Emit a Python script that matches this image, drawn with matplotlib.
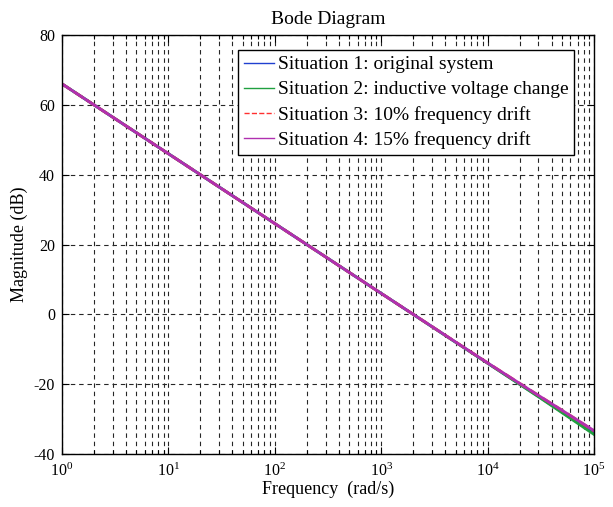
import matplotlib
matplotlib.use("Agg")
import matplotlib.pyplot as plt
from matplotlib.lines import Line2D
from matplotlib.ticker import LogLocator, FixedLocator, NullFormatter

plt.rcParams["font.family"] = ["Liberation Serif", "DejaVu Serif"]
plt.rcParams["axes.unicode_minus"] = False
plt.rcParams["mathtext.fontset"] = "custom"
plt.rcParams["mathtext.rm"] = "Liberation Serif"

# Frequency samples (rad/s) and magnitudes (dB) for each case
freq = [1, 10, 100, 1000, 1e4, 3e4, 6e4, 1e5]
mag_s1 = [66.0, 46.0, 26.0, 6.0, -14.0, -23.5, -29.6, -34.1]
mag_s2 = [66.0, 46.0, 26.0, 6.0, -14.0, -23.6, -29.8, -34.4]
mag_s3 = [66.0, 46.0, 26.0, 6.0, -13.9, -23.2, -29.0, -33.4]
mag_s4 = [66.0, 46.0, 26.0, 6.0, -13.9, -23.2, -29.0, -33.3]

labels = [
    "Situation 1: original system",
    "Situation 2: inductive voltage change",
    "Situation 3: 10% frequency drift",
    "Situation 4: 15% frequency drift",
]
colors = ["#2040d0", "#20a040", "#ff3030", "#b030b0"]
styles = ["-", "-", "--", "-"]

yticks = [-40, -20, 0, 20, 40, 60, 80]

fig = plt.figure(figsize=(6.13, 5.07), dpi=100)
ax = fig.add_axes([62 / 613, 1 - 454 / 507, (594 - 62) / 613, (454 - 35) / 507])

for y, c, ls in zip([mag_s1, mag_s2, mag_s3, mag_s4], colors, styles):
    ax.plot(freq, y, color=c, linestyle=ls, linewidth=2.0)

ax.set_xscale("log")
ax.set_xlim(1, 1e5)
ax.set_ylim(-40, 80)
ax.yaxis.set_major_locator(FixedLocator(yticks))
ax.xaxis.set_major_locator(LogLocator(base=10, numticks=10))
ax.xaxis.set_minor_locator(LogLocator(base=10, subs=range(2, 10), numticks=20))
ax.xaxis.set_minor_formatter(NullFormatter())

ax.tick_params(which="both", direction="in", top=True, right=True,
               labelsize=11.5, colors="black", width=0.8)
ax.tick_params(which="major", length=5)
ax.tick_params(which="minor", length=3)
ax.tick_params(axis="x", which="major", pad=6)
ax.tick_params(axis="y", which="major", pad=5)

grid_kw = dict(color="0.15", linestyle=(0, (4, 3.5)), linewidth=0.8)
ax.grid(True, which="major", axis="both", **grid_kw)
ax.grid(True, which="minor", axis="x", **grid_kw)
for s in ax.spines.values():
    s.set_linewidth(1.0)
    s.set_color("black")

ax.set_title("Bode Diagram", fontsize=14, pad=8)
ax.set_xlabel("Frequency  (rad/s)", fontsize=13, labelpad=1)
ax.set_ylabel("Magnitude (dB)", fontsize=13, labelpad=4)

handles = [Line2D([], [], color=c, linestyle=ls, linewidth=1.0)
           for c, ls in zip(colors, styles)]
leg = ax.legend(handles, labels, loc="upper right",
                bbox_to_anchor=(1 - 20 / 532, 1 - 15 / 419),
                borderaxespad=0, fontsize=14, frameon=True, fancybox=False,
                edgecolor="black", framealpha=1, handlelength=1.55,
                handletextpad=0.2, labelspacing=0.38, borderpad=0.3)
leg.get_frame().set_linewidth(1.0)

fig.savefig("out.png", dpi=100)
